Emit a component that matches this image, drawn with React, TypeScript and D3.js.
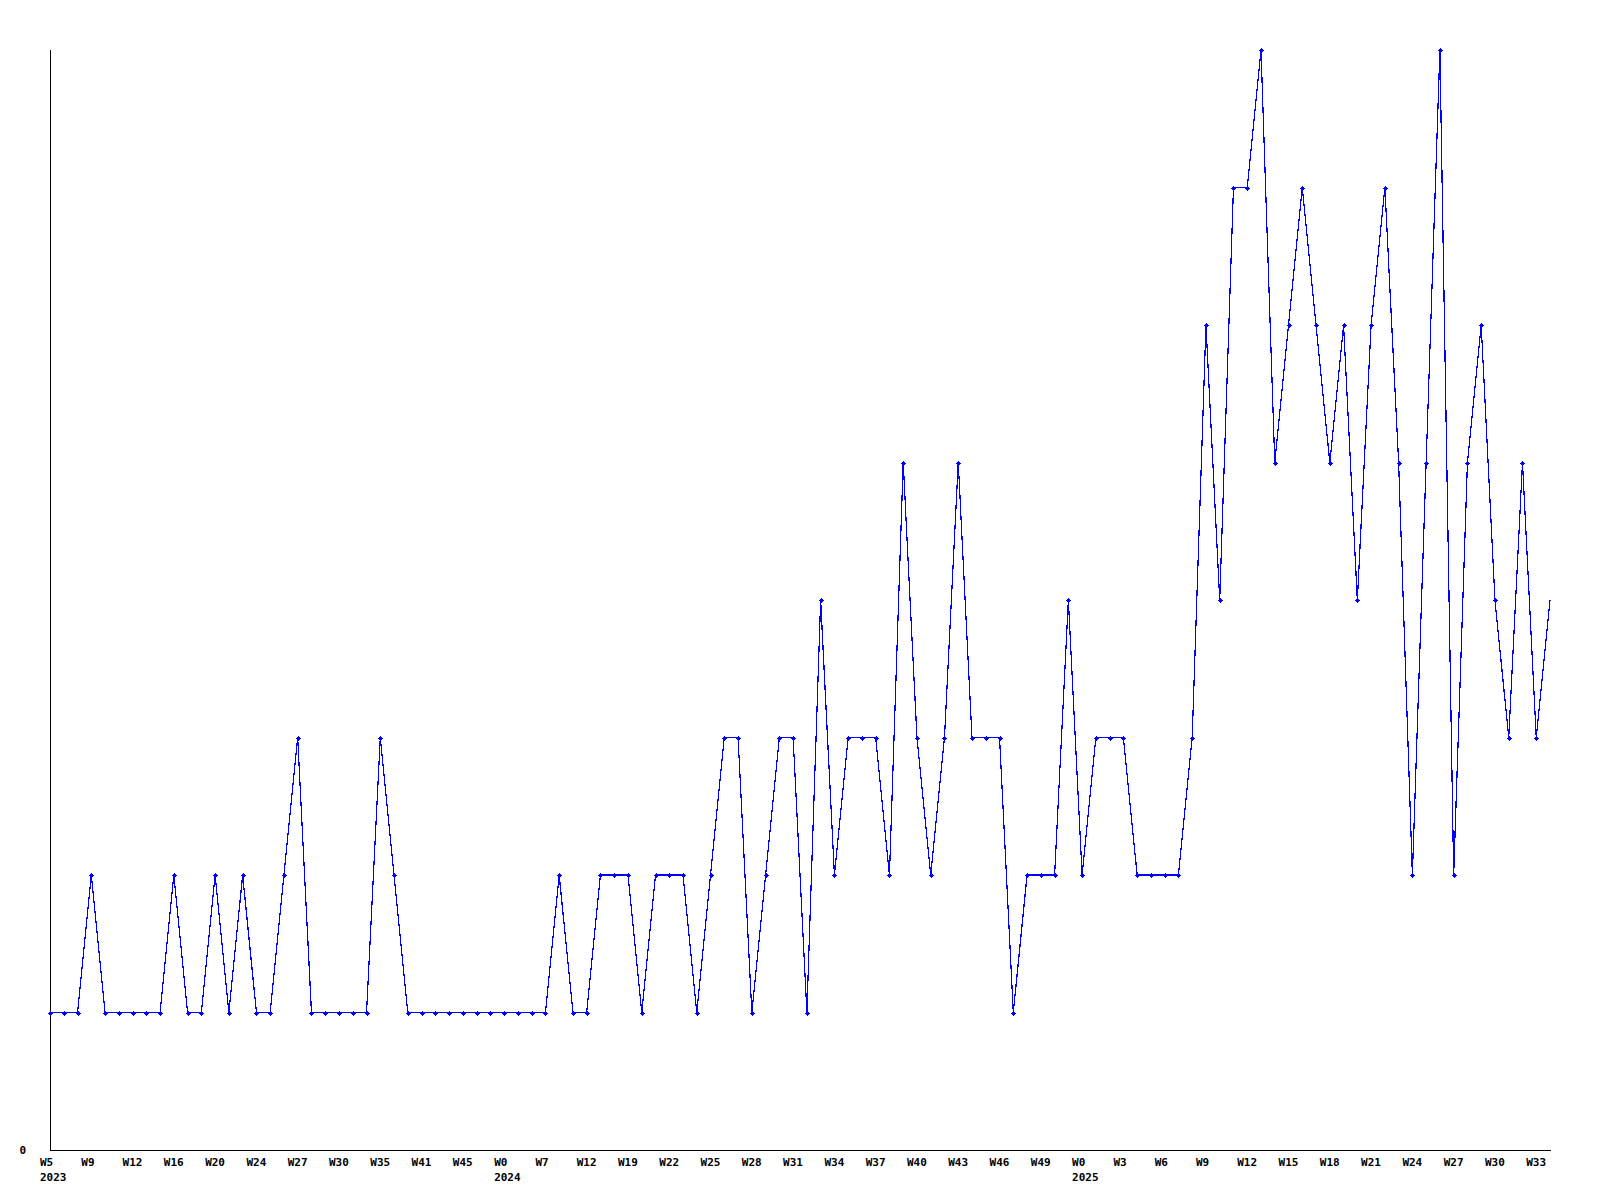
import React from "react";
import * as d3 from "d3";

const values: number[] = [
  1, 1, 1, 2, 1, 1, 1, 1, 1, 2,
  1, 1, 2, 1, 2, 1, 1, 2, 3, 1,
  1, 1, 1, 1, 3, 2, 1, 1, 1, 1,
  1, 1, 1, 1, 1, 1, 1, 2, 1, 1,
  2, 2, 2, 1, 2, 2, 2, 1, 2, 3,
  3, 1, 2, 3, 3, 1, 4, 2, 3, 3,
  3, 2, 5, 3, 2, 3, 5, 3, 3, 3,
  1, 2, 2, 2, 4, 2, 3, 3, 3, 2,
  2, 2, 2, 3, 6, 4, 7, 7, 8, 5,
  6, 7, 6, 5, 6, 4, 6, 7, 5, 2,
  5, 8, 2, 5, 6, 4, 3, 5, 3, 4,
];

const weekLabels: string[] = [
  "W5", "W9", "W12", "W16", "W20", "W24", "W27", "W30", "W35", "W41", "W45",
  "W0", "W7", "W12", "W19", "W22", "W25", "W28", "W31", "W34", "W37", "W40", "W43", "W46", "W49",
  "W0", "W3", "W6", "W9", "W12", "W15", "W18", "W21", "W24", "W27", "W30", "W33",
];
const labelEvery = 3;

const yearLabels: { index: number; label: string }[] = [
  { index: 0, label: "2023" },
  { index: 33, label: "2024" },
  { index: 75, label: "2025" },
];

const yTickLabels: { value: number; label: string }[] = [{ value: 0, label: "0" }];

export default function App() {
  const left = 50, right = 1550, top = 50, bottom = 1150;
  const x = d3.scaleLinear().domain([0, values.length - 1]).range([left, right]);
  const y = d3.scaleLinear().domain([0, 8]).range([bottom, top]);
  const line = d3.line<number>().x((_, i) => x(i)).y((d) => y(d));
  const font = "'DejaVu Sans Mono', 'Liberation Mono', monospace";
  const marker = "M-2.5,-0.5h5v1h-5z M-0.5,-2.5h1v5h-1z M-1.5,-1.5h3v3h-3z";

  return (
    <svg
      width={1600}
      height={1200}
      style={{ position: "absolute", left: 0, top: 0, background: "#fff" }}
    >
      <rect x={0} y={0} width={1600} height={1200} fill="#fff" />
      <line x1={left + 0.5} y1={top} x2={left + 0.5} y2={bottom} stroke="#000" strokeWidth={1} shapeRendering="crispEdges" />
      <line x1={left} y1={bottom + 0.5} x2={right + 1} y2={bottom + 0.5} stroke="#000" strokeWidth={1} shapeRendering="crispEdges" />
      <path d={line(values) || ""} fill="none" stroke="#0000ff" strokeWidth={1.2} shapeRendering="crispEdges" />
      {values.slice(0, values.length - 1).map((v, i) => (
        <path key={i} d={marker} transform={`translate(${Math.round(x(i)) + 0.5},${Math.round(y(v)) + 0.5})`} fill="#0000ff" shapeRendering="crispEdges" />
      ))}
      {weekLabels.map((l, k) => (
        <text key={k} x={x(k * labelEvery) - 10} y={1166} fontFamily={font} fontWeight="bold" fontSize={11} fill="#000">
          {l}
        </text>
      ))}
      {yearLabels.map((yl) => (
        <text key={yl.label} x={x(yl.index) - 10} y={1181} fontFamily={font} fontWeight="bold" fontSize={11} fill="#000">
          {yl.label}
        </text>
      ))}
      {yTickLabels.map((t) => (
        <text key={t.label} x={26} y={y(t.value) + 4} textAnchor="end" fontFamily={font} fontWeight="bold" fontSize={11} fill="#000">
          {t.label}
        </text>
      ))}
    </svg>
  );
}
